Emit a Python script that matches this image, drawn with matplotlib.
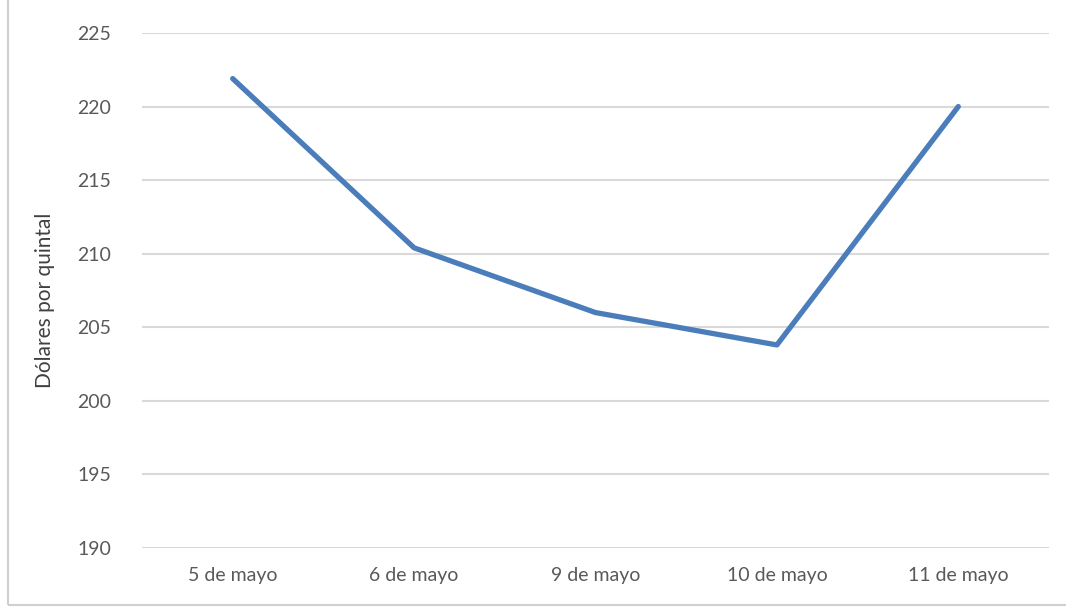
import matplotlib
matplotlib.use("Agg")
import matplotlib.pyplot as plt
from matplotlib.patches import Rectangle

categories = ["5 de mayo", "6 de mayo", "9 de mayo", "10 de mayo", "11 de mayo"]
values = [221.9, 210.4, 206.0, 203.8, 220.0]
yticks = [190, 195, 200, 205, 210, 215, 220, 225]

plt.rcParams['font.family'] = ['Lato', 'DejaVu Sans']

fig = plt.figure(figsize=(10.66, 6.07), dpi=100)
ax = fig.add_axes([142/1066, 1-548/607, (1049-142)/1066, (548-33)/607])

x = list(range(len(categories)))
ax.plot(x, values, color='#4a7dba', linewidth=3.8, solid_joinstyle='round', solid_capstyle='round', zorder=3)

ax.set_xlim(-0.5, len(categories) - 0.5)
ax.set_ylim(190, 225)
ax.set_yticks(yticks)
ax.set_yticklabels([str(t) for t in yticks])
ax.set_xticks(x)
ax.set_xticklabels(categories)
ax.grid(axis='y', color='#d9d9d9', linewidth=1.5, zorder=0)
ax.set_axisbelow(True)
for s in ax.spines.values():
    s.set_visible(False)
ax.tick_params(axis='both', length=0, labelsize=14, colors='#595959')
ax.tick_params(axis='y', pad=22)
ax.tick_params(axis='x', pad=14)
ax.set_ylabel("Dólares por quintal", fontsize=15, color='#404040')
ax.yaxis.set_label_coords(-(142 - 55) / 907, 0.48)

fig.patches.append(Rectangle((8/1066, 0.004), 1.2, 1.2, transform=fig.transFigure,
                             fill=False, edgecolor='#d0d0d0', linewidth=1.5))

fig.savefig("out.png", dpi=100)
